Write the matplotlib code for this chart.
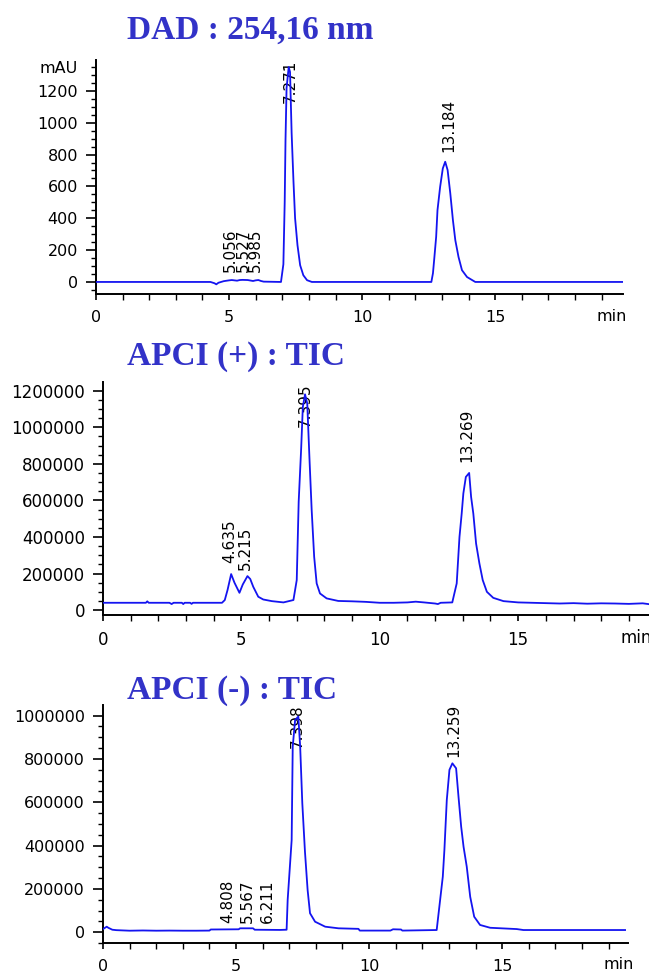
import matplotlib
matplotlib.use("Agg")
import matplotlib.pyplot as plt
from matplotlib.ticker import MultipleLocator

# DAD : 254,16 nm  (time in min, signal in mAU)
dad_t = [0, 4.3, 4.45, 4.52, 4.6, 4.8, 5.0, 5.1, 5.3, 5.4, 5.5, 5.7, 5.9, 6.0, 6.1, 6.2, 6.3,
         6.95, 7.04, 7.09, 7.12, 7.16, 7.24, 7.29, 7.35, 7.42, 7.48, 7.57, 7.67, 7.79, 7.93, 8.11,
         12.6, 12.66, 12.71, 12.78, 12.83, 12.93, 13.03, 13.12, 13.21, 13.31, 13.41, 13.50,
         13.62, 13.75, 13.94, 14.25, 19.8]
dad_v = [0, 0, -8, -15, -5, 5, 10, 12, 8, 12, 13, 12, 6, 10, 12, 6, 2,
         0, 111, 503, 891, 1218, 1350, 1319, 935, 629, 400, 231, 105, 42, 11, 0,
         0, 55, 148, 283, 451, 598, 713, 755, 703, 558, 388, 262,
         157, 74, 31, 0, 0]
dad_peaks = [(5.056, 60, "5.056"), (5.527, 60, "5.527"), (5.985, 60, "5.985"),
             (7.30, 1123, "7.271"), (13.24, 816, "13.184")]

# APCI (+) : TIC
pos_t = [0, 1.55, 1.6, 1.65, 2.4, 2.48, 2.55, 2.85, 2.9, 2.95, 3.15, 3.2, 3.25,
         4.3, 4.4, 4.5, 4.63, 4.75, 4.93, 5.05, 5.22, 5.32, 5.43, 5.61, 5.79, 6.1, 6.52, 6.88,
         7.0, 7.07, 7.16, 7.22, 7.30, 7.38, 7.46, 7.54, 7.63, 7.72, 7.84, 8.08,
         8.5, 9.0, 9.5, 10.0, 10.5, 11.0, 11.3, 11.6, 12.0, 12.1, 12.2,
         12.62, 12.78, 12.88, 12.96, 13.02, 13.11, 13.23, 13.30, 13.38, 13.48, 13.60, 13.72,
         13.87, 14.1, 14.47, 15.0, 15.5, 16.0, 16.5, 17.0, 17.5, 18.0, 18.5, 19.0, 19.5, 19.8]
pos_v = [40000, 40000, 48000, 40000, 40000, 33000, 40000, 40000, 33000, 40000, 40000, 34000, 40000,
         40000, 55000, 110000, 197000, 150000, 94500, 140000, 186000, 170000, 127000, 73000, 58000,
         49000, 42000, 55000,
         164000, 592000, 884000, 1111000, 1180000, 1129000, 829000, 546000, 291000, 146000, 91000,
         64000,
         50000, 48000, 45000, 40000, 40000, 42000, 46000, 42000, 36000, 33000, 40000,
         42000, 146000, 400000, 528000, 638000, 728000, 750000, 619000, 528000, 364000, 255000,
         164000,
         100000, 67000, 49000, 42000, 40000, 38000, 36000, 38000, 35000, 37000, 36000, 34000,
         37000, 31000]
pos_peaks = [(4.59, 255000, "4.635"), (5.13, 218000, "5.215"),
             (7.32, 1001000, "7.395"), (13.14, 810000, "13.269")]

# APCI (-) : TIC
neg_t = [0, 0.14, 0.2, 0.35, 0.5, 1.0, 1.5, 2.0, 2.5, 3.0, 3.5, 4.0, 4.05, 5.1, 5.15, 5.64,
         5.7, 6.65, 6.9, 6.94, 7.09, 7.13, 7.22, 7.34, 7.41, 7.49, 7.59, 7.69, 7.78, 7.97,
         8.35, 8.85, 9.6, 9.65, 10.8, 10.9, 11.2, 11.25, 12.54, 12.67, 12.77, 12.83, 12.92,
         13.02, 13.13, 13.27, 13.36, 13.46, 13.55, 13.67, 13.80, 13.95, 14.17, 14.55, 15.55,
         15.8, 19.62]
neg_v = [15000, 26000, 21000, 12000, 10000, 7500, 8500, 7500, 8000, 7500, 7500, 8000, 13000,
         14000, 18500, 18500, 12000, 11000, 12000, 150000, 426000, 857000, 980000, 996000,
         857000, 596000, 372000, 195000, 88000, 49000, 26000, 18500, 16000, 8000, 8000, 14000,
         13000, 8000, 10600, 150000, 257000, 380000, 611000, 750000, 780000, 757000, 626000,
         488000, 395000, 303000, 164000, 72000, 34000, 21000, 15000, 10600, 10600]
neg_peaks = [(4.70, 44000, "4.808"), (5.43, 44000, "5.567"), (6.18, 44000, "6.211"),
             (7.31, 850000, "7.398"), (13.17, 811000, "13.259")]

line_color = "#1414f0"
title_color = "#3232c8"

fig = plt.figure(figsize=(6.49, 9.71), dpi=100)


def chromatogram(rect, t, v, peaks, xmax, ylim, ymajor, yminor, title, title_y,
                 tick_size, min_x, min_off):
    ax = fig.add_axes(rect)
    ax.plot(t, v, color=line_color, lw=1.3, zorder=3)
    for x, y, lab in peaks:
        ax.text(x, y, lab, rotation=90, ha="center", va="bottom", fontsize=11,
                color="black", zorder=2)
    ax.set_xlim(0, xmax)
    ax.set_ylim(*ylim)
    ax.spines["top"].set_visible(False)
    ax.spines["right"].set_visible(False)
    for s in ("left", "bottom"):
        ax.spines[s].set_linewidth(1.4)
    ax.xaxis.set_major_locator(MultipleLocator(5))
    ax.xaxis.set_minor_locator(MultipleLocator(1))
    ax.yaxis.set_major_locator(MultipleLocator(ymajor))
    ax.yaxis.set_minor_locator(MultipleLocator(yminor))
    ax.ticklabel_format(style="plain", axis="y", useOffset=False)
    ax.tick_params(axis="x", which="major", length=4.5, width=1.2, pad=7, labelsize=tick_size)
    ax.tick_params(axis="x", which="minor", length=4.5, width=1.0)
    ax.tick_params(axis="y", which="major", length=7, width=1.2, pad=6, labelsize=tick_size)
    ax.tick_params(axis="y", which="minor", length=3.5, width=1.0)
    ax.annotate("min", xy=(min_x, 0), xycoords=ax.get_xaxis_transform(),
                xytext=(0, -min_off), textcoords="offset points",
                ha="center", va="center", fontsize=tick_size)
    fig.text(127 / 649, title_y, title, fontsize=24, fontweight="bold",
             family="Liberation Serif", color=title_color, va="baseline")
    return ax


ax1 = chromatogram([96 / 649, 0.697, 527 / 649, 0.2417], dad_t, dad_v, dad_peaks, 19.8,
                   (-77, 1397), 200, 50, "DAD : 254,16 nm", 0.9598, 11.5, 19.38, 16.3)
ax1.annotate("mAU", xy=(0, 1338), xycoords="data", xytext=(-13.5, 0),
             textcoords="offset points", ha="right", va="center", fontsize=11.5)

ax2 = chromatogram([103 / 649, 0.3666, 548 / 649, 0.2403], pos_t, pos_v, pos_peaks, 19.8,
                   (-27000, 1249000), 200000, 50000, "APCI (+) : TIC", 0.6241, 12, 19.26, 16.3)

ax3 = chromatogram([103 / 649, 0.0285, 525 / 649, 0.2454], neg_t, neg_v, neg_peaks, 19.73,
                   (-50800, 1049000), 200000, 50000, "APCI (-) : TIC", 0.2808, 11.5, 19.38, 15.6)

fig.savefig("out.png", dpi=100)
